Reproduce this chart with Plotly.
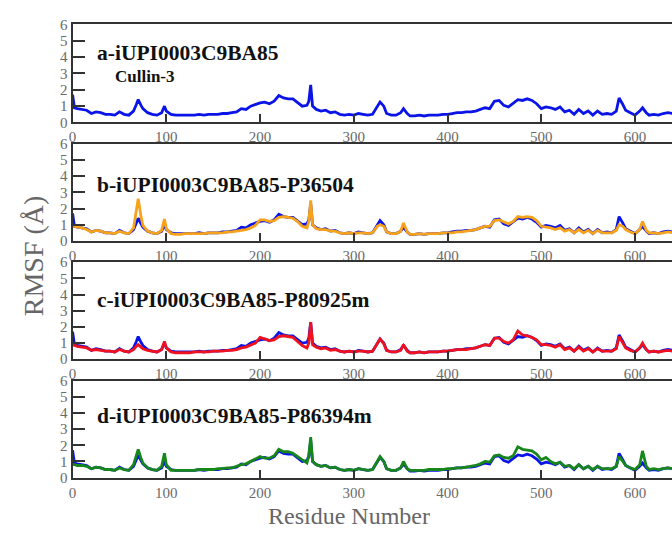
import plotly.graph_objects as go

RESIDUE = [0, 2, 5, 10, 15, 20, 25, 30, 35, 40, 45, 50, 55, 60, 65,
           68, 70, 73, 75, 80, 85, 90, 95, 98, 100,
           105, 110, 115, 120, 125, 130, 135, 140, 145, 150, 155, 160, 165, 170, 175,
           180, 185, 190, 195, 200, 205, 210, 215, 220, 225, 230, 235, 240, 245, 250,
           252, 254, 256,
           260, 265, 270, 275, 280, 285, 290, 295, 300, 305, 310, 315, 320, 325,
           328, 332, 335, 340, 345, 350, 353, 357,
           360, 365, 370, 375, 380, 385, 390, 395, 400, 405,
           410, 415, 420, 425, 430, 435, 440, 445, 450, 455,
           460, 465, 470, 475, 480, 485, 490, 495, 500, 505,
           510, 515, 520, 525, 530, 535, 540, 545, 550, 555,
           560, 565, 570, 575, 580,
           583, 587, 590, 595, 600, 605, 608, 612,
           615, 620, 625, 630, 635, 640]

RMSF_A = [1.7, 0.9, 0.85, 0.8, 0.75, 0.55, 0.65, 0.6, 0.5, 0.5, 0.45, 0.65, 0.5, 0.45, 0.7,
          1.1, 1.4, 1.05, 0.85, 0.6, 0.5, 0.45, 0.6, 1.0, 0.7,
          0.5, 0.45, 0.45, 0.45, 0.45, 0.45, 0.5, 0.45, 0.5, 0.5, 0.5, 0.55, 0.55, 0.6, 0.65,
          0.85, 0.8, 1.0, 1.1, 1.2, 1.25, 1.15, 1.3, 1.65, 1.5, 1.45, 1.45, 1.2, 1.0, 1.05,
          1.3, 2.3, 1.0,
          0.8, 0.7, 0.75, 0.6, 0.65, 0.5, 0.45, 0.5, 0.45, 0.55, 0.5, 0.45, 0.5, 1.0,
          1.25, 1.0, 0.55, 0.45, 0.45, 0.6, 0.85, 0.55,
          0.4, 0.4, 0.45, 0.4, 0.45, 0.45, 0.45, 0.5, 0.5, 0.55,
          0.6, 0.6, 0.65, 0.65, 0.7, 0.8, 0.9, 0.85, 1.3, 1.35,
          1.05, 0.95, 1.15, 1.4, 1.35, 1.45, 1.35, 1.15, 0.85, 0.95,
          0.9, 0.8, 0.95, 0.65, 0.75, 0.5, 0.8, 0.55, 0.7, 0.45,
          0.7, 0.5, 0.55, 0.5, 0.7,
          1.5, 1.1, 0.75, 0.6, 0.45, 0.7, 0.9, 0.6,
          0.45, 0.5, 0.45, 0.55, 0.6, 0.55]

RMSF_B = [1.0, 0.9, 0.85, 0.8, 0.7, 0.55, 0.65, 0.6, 0.5, 0.5, 0.45, 0.6, 0.5, 0.45, 0.8,
          2.0, 2.6, 1.5, 0.95, 0.6, 0.5, 0.45, 0.65, 1.35, 0.75,
          0.45, 0.4, 0.4, 0.45, 0.45, 0.45, 0.45, 0.45, 0.5, 0.5, 0.5, 0.5, 0.55, 0.55, 0.6,
          0.65, 0.7, 0.8, 0.95, 1.3, 1.3, 1.2, 1.25, 1.45, 1.5, 1.45, 1.4, 1.2, 0.9, 0.8,
          1.2, 2.5, 1.0,
          0.75, 0.7, 0.7, 0.6, 0.6, 0.5, 0.45, 0.5, 0.45, 0.5, 0.5, 0.45, 0.5, 0.9,
          1.0, 0.9, 0.55, 0.45, 0.45, 0.6, 1.1, 0.55,
          0.4, 0.4, 0.45, 0.4, 0.45, 0.45, 0.45, 0.5, 0.5, 0.5,
          0.55, 0.55, 0.6, 0.65, 0.7, 0.8, 0.9, 0.9, 1.25, 1.3,
          1.15, 1.05, 1.2, 1.5, 1.45, 1.5, 1.45, 1.25, 0.9, 0.85,
          0.8, 0.7, 0.8, 0.6, 0.7, 0.5, 0.7, 0.5, 0.65, 0.45,
          0.65, 0.5, 0.5, 0.5, 0.65,
          1.0, 0.9, 0.7, 0.55, 0.45, 0.7, 1.2, 0.65,
          0.5, 0.5, 0.45, 0.5, 0.55, 0.5]

RMSF_C = [0.9, 0.85, 0.8, 0.75, 0.7, 0.55, 0.6, 0.55, 0.5, 0.5, 0.45, 0.6, 0.5, 0.45, 0.6,
          0.8, 0.9, 0.75, 0.65, 0.55, 0.5, 0.45, 0.6, 1.1, 0.7,
          0.45, 0.4, 0.4, 0.4, 0.4, 0.45, 0.45, 0.45, 0.45, 0.5, 0.5, 0.5, 0.55, 0.55, 0.6,
          0.7, 0.75, 0.9, 1.0, 1.35, 1.25, 1.15, 1.2, 1.4, 1.45, 1.4, 1.35, 1.1, 0.85, 0.7,
          1.0, 2.3, 0.9,
          0.75, 0.65, 0.7, 0.55, 0.6, 0.5, 0.45, 0.5, 0.45, 0.5, 0.5, 0.45, 0.5, 1.0,
          1.25, 0.95, 0.55, 0.45, 0.45, 0.55, 0.9, 0.5,
          0.4, 0.4, 0.45, 0.4, 0.45, 0.45, 0.45, 0.5, 0.5, 0.55,
          0.6, 0.6, 0.6, 0.65, 0.7, 0.8, 0.9, 0.85, 1.3, 1.3,
          1.1, 1.0, 1.2, 1.75, 1.5, 1.45, 1.35, 1.2, 0.9, 0.9,
          0.85, 0.75, 0.9, 0.6, 0.7, 0.5, 0.75, 0.5, 0.65, 0.45,
          0.65, 0.5, 0.5, 0.5, 0.65,
          1.4, 1.0, 0.7, 0.55, 0.45, 0.7, 1.0, 0.6,
          0.45, 0.5, 0.45, 0.5, 0.55, 0.5]

RMSF_D = [0.8, 0.8, 0.75, 0.75, 0.7, 0.55, 0.65, 0.6, 0.5, 0.5, 0.45, 0.6, 0.5, 0.45, 0.8,
          1.4, 1.75, 1.2, 0.9, 0.6, 0.5, 0.45, 0.7, 1.5, 0.8,
          0.45, 0.45, 0.45, 0.45, 0.45, 0.45, 0.5, 0.5, 0.5, 0.5, 0.55, 0.55, 0.6, 0.6, 0.7,
          0.8, 0.85, 1.0, 1.15, 1.3, 1.2, 1.2, 1.35, 1.75, 1.6, 1.6, 1.5, 1.3, 1.05, 0.9,
          1.4, 2.5, 1.0,
          0.8, 0.7, 0.75, 0.6, 0.65, 0.5, 0.45, 0.5, 0.45, 0.55, 0.5, 0.45, 0.5, 1.0,
          1.3, 1.0, 0.55, 0.45, 0.45, 0.6, 1.0, 0.55,
          0.45, 0.45, 0.45, 0.45, 0.5, 0.5, 0.5, 0.5, 0.55, 0.55,
          0.6, 0.6, 0.65, 0.7, 0.75, 0.85, 1.0, 0.95, 1.35, 1.4,
          1.25, 1.2, 1.35, 1.9, 1.75, 1.7, 1.65, 1.45, 1.1, 1.25,
          1.0, 0.85, 0.95, 0.7, 0.75, 0.55, 0.8, 0.55, 0.7, 0.5,
          0.7, 0.55, 0.55, 0.55, 0.7,
          1.3, 1.0, 0.75, 0.6, 0.5, 0.8, 1.65, 0.7,
          0.5, 0.55, 0.5, 0.55, 0.6, 0.55]

PANEL_TITLES = ["a-iUPI0003C9BA85", "b-iUPI0003C9BA85-P36504",
                "c-iUPI0003C9BA85-P80925m", "d-iUPI0003C9BA85-P86394m"]
SUBTITLE_A = "Cullin-3"
X_TICKS = [0, 100, 200, 300, 400, 500, 600]
Y_TICKS = [0, 1, 2, 3, 4, 5, 6]
X_TITLE = "Residue Number"
Y_TITLE = "RMSF (Å)"

W, H = 672, 538
BLUE = "#0a14e6"
COLORS = [BLUE, "#f7a21b", "#f0101e", "#17871c"]
SERIES = [RMSF_A, RMSF_B, RMSF_C, RMSF_D]

# pixel layout of the four panels (top, bottom)
PANELS = [(17, 118), (140, 240), (262, 362), (384, 484)]
LEFT = 69
PX_PER_RES = 0.943
XMAX = (W - LEFT) / PX_PER_RES

fig = go.Figure()
for i, (top, bot) in enumerate(PANELS):
    n = "" if i == 0 else str(i + 1)
    xa, ya = "x" + n, "y" + n
    if i > 0:
        fig.add_trace(go.Scatter(x=RESIDUE, y=RMSF_A, mode="lines",
                                 line=dict(color=BLUE, width=2.8),
                                 xaxis=xa, yaxis=ya, showlegend=False,
                                 hoverinfo="skip"))
    fig.add_trace(go.Scatter(x=RESIDUE, y=SERIES[i], mode="lines",
                             line=dict(color=COLORS[i], width=2.8),
                             xaxis=xa, yaxis=ya, showlegend=False,
                             hoverinfo="skip"))
    dom_y = [1 - bot / H, 1 - top / H]
    tickfont = dict(family="Liberation Serif", size=15, color="#6a6a6a")
    fig.layout["xaxis" + n] = dict(
        domain=[LEFT / W, 1], range=[0, XMAX], anchor=ya,
        tickvals=X_TICKS, ticks="inside", ticklen=8, tickwidth=1.5, tickcolor="#333",
        showline=True, mirror=True, linecolor="#333", linewidth=2,
        showgrid=False, zeroline=False, tickfont=tickfont)
    fig.layout["yaxis" + n] = dict(
        domain=dom_y, range=[0, 6], anchor=xa,
        tickvals=Y_TICKS, ticks="inside", ticklen=12, tickwidth=2, tickcolor="#333",
        showline=True, mirror=False, linecolor="#333", linewidth=2,
        showgrid=False, zeroline=False, tickfont=tickfont)

title_y = [46, 182, 301, 421]
for i, t in enumerate(PANEL_TITLES):
    fig.add_annotation(text="<b>" + t + "</b>", xref="paper", yref="paper",
                       x=92 / W, y=1 - title_y[i] / H, xanchor="left", yanchor="middle",
                       showarrow=False,
                       font=dict(family="Liberation Serif", size=21.5, color="#111"))
fig.add_annotation(text="<b>" + SUBTITLE_A + "</b>", xref="paper", yref="paper",
                   x=110 / W, y=1 - 71 / H, xanchor="left", yanchor="middle",
                   showarrow=False,
                   font=dict(family="Liberation Serif", size=17, color="#111"))
fig.add_annotation(text=X_TITLE, xref="paper", yref="paper",
                   x=347 / W, y=0, xanchor="center", yanchor="bottom",
                   showarrow=False, borderpad=0,
                   font=dict(family="Liberation Serif", size=24, color="#666"))
fig.add_annotation(text=Y_TITLE, xref="paper", yref="paper",
                   x=30 / W, y=1 - 255 / H, xanchor="center", yanchor="middle",
                   textangle=-90, showarrow=False,
                   font=dict(family="Liberation Serif", size=28, color="#666"))

fig.update_layout(width=W, height=H, margin=dict(l=0, r=0, t=0, b=0),
                  paper_bgcolor="white", plot_bgcolor="white", hovermode=False)
fig.write_html("out.html", config={"displayModeBar": False},
               post_script="document.body.style.margin='0';"
                           "document.body.style.overflow='hidden';")
